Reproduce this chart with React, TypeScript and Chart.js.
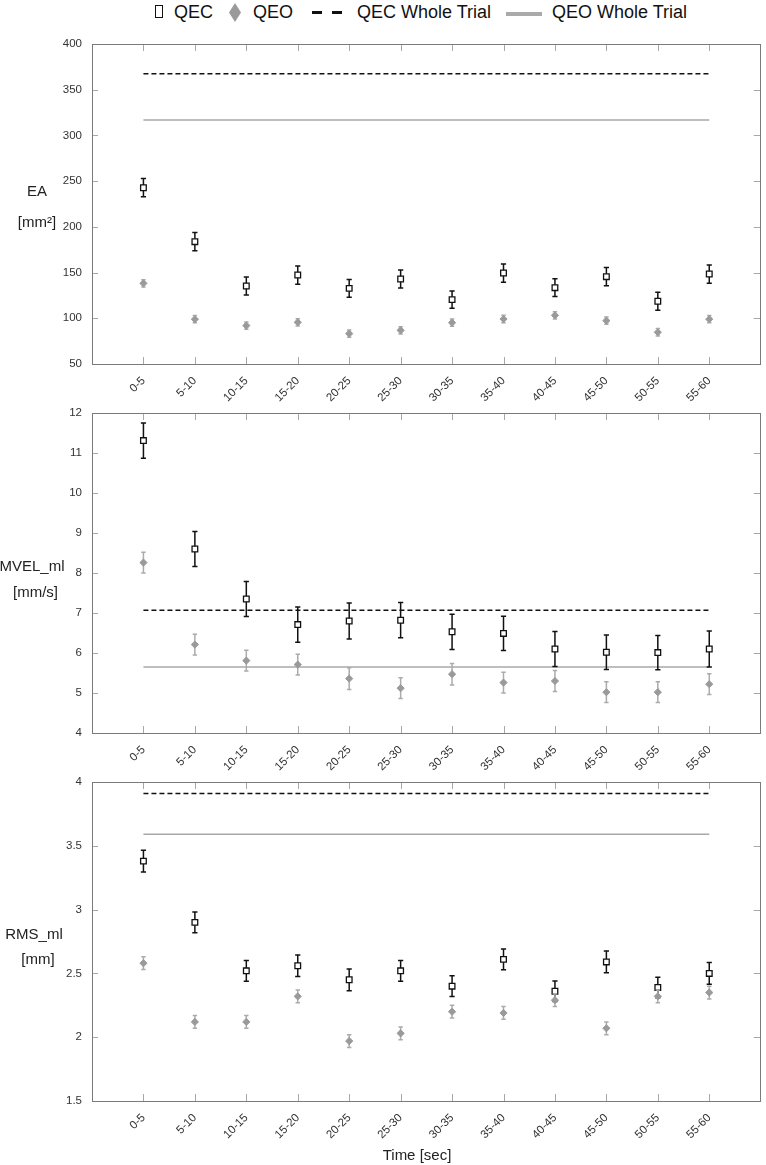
import React, { useEffect, useRef } from "react";
import { Chart, registerables } from "chart.js";

Chart.register(...registerables);

const FONT = "'Liberation Sans', Arial, Helvetica, sans-serif";

// ---------- data ----------
const categories = ["0-5", "5-10", "10-15", "15-20", "20-25", "25-30", "30-35", "35-40", "40-45", "45-50", "50-55", "55-60"];

const eaTicks = [50, 100, 150, 200, 250, 300, 350, 400];
const eaQEC = [242.8, 183.8, 135.3, 147.3, 132.7, 143, 120.4, 149.5, 133.5, 145.5, 118.6, 148.4];
const eaQECErr = [10, 10, 9.8, 10, 9.8, 9.8, 9.5, 10, 9.8, 10, 9.8, 10];
const eaQEO = [138.2, 99, 92, 95.6, 83.2, 86.8, 95.2, 99.2, 103.2, 97.4, 84.7, 99];
const eaQEOErr = [4, 4, 4, 4, 4, 4, 4, 4, 4, 4, 4, 4];
const eaQECWhole = 367.5;
const eaQEOWhole = 317;

const mvelTicks = [4, 5, 6, 7, 8, 9, 10, 11, 12];
const mvelQEC = [11.31, 8.6, 7.35, 6.71, 6.8, 6.82, 6.53, 6.49, 6.1, 6.02, 6.01, 6.1];
const mvelQECErr = [0.44, 0.44, 0.44, 0.44, 0.45, 0.44, 0.44, 0.43, 0.44, 0.43, 0.43, 0.45];
const mvelQEO = [8.26, 6.21, 5.81, 5.71, 5.36, 5.12, 5.47, 5.26, 5.3, 5.02, 5.02, 5.22];
const mvelQEOErr = [0.26, 0.26, 0.26, 0.26, 0.27, 0.26, 0.27, 0.26, 0.26, 0.26, 0.26, 0.26];
const mvelQECWhole = 7.07;
const mvelQEOWhole = 5.65;

const rmsTicks = [1.5, 2, 2.5, 3, 3.5, 4];
const rmsQEC = [3.38, 2.9, 2.52, 2.56, 2.45, 2.52, 2.4, 2.61, 2.36, 2.59, 2.39, 2.5];
const rmsQECErr = [0.085, 0.082, 0.082, 0.085, 0.085, 0.082, 0.082, 0.082, 0.08, 0.085, 0.08, 0.085];
const rmsQEO = [2.58, 2.12, 2.12, 2.32, 1.97, 2.03, 2.2, 2.19, 2.29, 2.07, 2.32, 2.35];
const rmsQEOErr = [0.05, 0.05, 0.05, 0.05, 0.05, 0.05, 0.05, 0.05, 0.05, 0.05, 0.05, 0.05];
const rmsQECWhole = 3.91;
const rmsQEOWhole = 3.59;

// ---------- panel layout ----------
type Label = { text: string; x: number; y: number; size: number };
type PanelCfg = {
  top: number;
  height: number;
  padTop: number;
  xAxisHeight: number;
  ticks: number[];
  qec: number[];
  qecErr: number[];
  qeo: number[];
  qeoErr: number[];
  qecWhole: number;
  qeoWhole: number;
  labels: Label[];
};

const panels: PanelCfg[] = [
  {
    top: 30, height: 375, padTop: 14, xAxisHeight: 41,
    ticks: eaTicks, qec: eaQEC, qecErr: eaQECErr, qeo: eaQEO, qeoErr: eaQEOErr,
    qecWhole: eaQECWhole, qeoWhole: eaQEOWhole,
    labels: [
      { text: "EA", x: 37, y: 162, size: 15 },
      { text: "[mm²]", x: 37, y: 193, size: 15 },
    ],
  },
  {
    top: 405, height: 370, padTop: 8, xAxisHeight: 42,
    ticks: mvelTicks, qec: mvelQEC, qecErr: mvelQECErr, qeo: mvelQEO, qeoErr: mvelQEOErr,
    qecWhole: mvelQECWhole, qeoWhole: mvelQEOWhole,
    labels: [
      { text: "MVEL_ml", x: 32, y: 162, size: 15 },
      { text: "[mm/s]", x: 35.5, y: 188, size: 15 },
    ],
  },
  {
    top: 775, height: 390, padTop: 7, xAxisHeight: 64,
    ticks: rmsTicks, qec: rmsQEC, qecErr: rmsQECErr, qeo: rmsQEO, qeoErr: rmsQEOErr,
    qecWhole: rmsQECWhole, qeoWhole: rmsQEOWhole,
    labels: [
      { text: "RMS_ml", x: 34, y: 160, size: 15 },
      { text: "[mm]", x: 38, y: 185, size: 15 },
      { text: "Time [sec]", x: 417, y: 381, size: 15 },
    ],
  },
];

const errorBarPlugin = {
  id: "errorBars",
  beforeDatasetDraw(chart: any, args: any) {
    const ds = chart.data.datasets[args.index];
    if (!ds.errs) return;
    const ctx = chart.ctx;
    const ys = chart.scales.y;
    ctx.save();
    ctx.strokeStyle = ds.errColor;
    ctx.lineWidth = 1.5;
    const cap = ds.capHalf;
    args.meta.data.forEach((el: any, i: number) => {
      const v = ds.data[i].y;
      const e = ds.errs[i];
      const yt = ys.getPixelForValue(v + e);
      const yb = ys.getPixelForValue(v - e);
      const x = el.x;
      ctx.beginPath();
      ctx.moveTo(x, yt);
      ctx.lineTo(x, yb);
      ctx.moveTo(x - cap, yt);
      ctx.lineTo(x + cap, yt);
      ctx.moveTo(x - cap, yb);
      ctx.lineTo(x + cap, yb);
      ctx.stroke();
    });
    ctx.restore();
  },
};

function makeFramePlugin(labels: Label[]) {
  return {
    id: "frame",
    beforeDatasetsDraw(chart: any) {
      const { ctx, chartArea: a, scales } = chart;
      ctx.save();
      ctx.strokeStyle = "#a8a8a8";
      ctx.lineWidth = 1;
      ctx.beginPath();
      scales.x.ticks.forEach((t: any) => {
        const px = Math.round(scales.x.getPixelForValue(t.value)) + 0.5;
        ctx.moveTo(px, a.top);
        ctx.lineTo(px, a.top + 7);
        ctx.moveTo(px, a.bottom);
        ctx.lineTo(px, a.bottom - 7);
      });
      scales.y.ticks.forEach((t: any) => {
        const py = Math.round(scales.y.getPixelForValue(t.value)) + 0.5;
        ctx.moveTo(a.left, py);
        ctx.lineTo(a.left + 6, py);
        ctx.moveTo(a.right, py);
        ctx.lineTo(a.right - 7, py);
      });
      ctx.stroke();
      ctx.strokeStyle = "#7a7a7a";
      ctx.strokeRect(Math.round(a.left) + 0.5, Math.round(a.top) + 0.5, Math.round(a.right - a.left) - 1, Math.round(a.bottom - a.top));
      ctx.restore();
    },
    afterDraw(chart: any) {
      const ctx = chart.ctx;
      ctx.save();
      ctx.fillStyle = "#222";
      ctx.textAlign = "center";
      ctx.textBaseline = "middle";
      labels.forEach((l) => {
        ctx.font = `${l.size}px ${FONT}`;
        ctx.fillText(l.text, l.x, l.y);
      });
      ctx.restore();
    },
  };
}

function Panel({ cfg }: { cfg: PanelCfg }) {
  const ref = useRef<HTMLCanvasElement>(null);
  useEffect(() => {
    const pts = (arr: number[]) => arr.map((v, i) => ({ x: i + 1, y: v }));
    const flat = (v: number) => categories.map((_, i) => ({ x: i + 1, y: v }));
    const chart = new Chart(ref.current!, {
      type: "scatter",
      data: {
        datasets: [
          {
            label: "QEO",
            data: pts(cfg.qeo),
            errs: cfg.qeoErr,
            errColor: "#ababab",
            capHalf: 2.2,
            pointStyle: "rectRot",
            pointRadius: 3.6,
            pointBackgroundColor: "#9a9a9a",
            pointBorderColor: "#9a9a9a",
            pointBorderWidth: 1,
            order: 1,
          } as any,
          {
            label: "QEC",
            data: pts(cfg.qec),
            errs: cfg.qecErr,
            errColor: "#111",
            capHalf: 2.6,
            pointStyle: "rect",
            pointRadius: 4,
            pointBackgroundColor: "#fff",
            pointBorderColor: "#111",
            pointBorderWidth: 1.3,
            order: 2,
          } as any,
          {
            label: "QEC Whole Trial",
            data: flat(cfg.qecWhole),
            showLine: true,
            borderColor: "#111",
            borderWidth: 1.5,
            borderDash: [5, 3],
            pointRadius: 0,
            order: 3,
          } as any,
          {
            label: "QEO Whole Trial",
            data: flat(cfg.qeoWhole),
            showLine: true,
            borderColor: "#a8a8a8",
            borderWidth: 1.5,
            pointRadius: 0,
            order: 3,
          } as any,
        ],
      },
      options: {
        responsive: false,
        animation: false,
        devicePixelRatio: 1,
        events: [],
        layout: { padding: { left: 0, right: 2, top: cfg.padTop, bottom: 0 } },
        plugins: { legend: { display: false }, tooltip: { enabled: false } },
        scales: {
          x: {
            type: "linear",
            min: 0,
            max: categories.length + 1,
            afterBuildTicks: (s: any) => {
              s.ticks = categories.map((_, i) => ({ value: i + 1 }));
            },
            afterFit: (s: any) => {
              s.height = cfg.xAxisHeight;
              s.paddingLeft = 0;
              s.paddingRight = 0;
            },
            ticks: {
              callback: (v: any) => categories[Number(v) - 1] ?? "",
              autoSkip: false,
              minRotation: 45,
              maxRotation: 45,
              padding: 10,
              color: "#333",
              font: { family: FONT, size: 11.5 },
            },
            grid: { display: false, drawTicks: false },
            border: { display: false },
          },
          y: {
            type: "linear",
            min: cfg.ticks[0],
            max: cfg.ticks[cfg.ticks.length - 1],
            afterBuildTicks: (s: any) => {
              s.ticks = cfg.ticks.map((v) => ({ value: v }));
            },
            afterFit: (s: any) => {
              s.width = 92;
              s.paddingTop = 0;
              s.paddingBottom = 0;
            },
            ticks: {
              callback: (v: any) => String(v),
              padding: 10,
              color: "#333",
              font: { family: FONT, size: 11.5 },
            },
            grid: { display: false, drawTicks: false },
            border: { display: false },
          },
        },
      } as any,
      plugins: [errorBarPlugin, makeFramePlugin(cfg.labels)],
    });
    return () => chart.destroy();
  }, [cfg]);
  return (
    <canvas
      ref={ref}
      width={766}
      height={cfg.height}
      style={{ position: "absolute", left: 0, top: cfg.top, width: 766, height: cfg.height }}
    />
  );
}

function Legend() {
  const text: React.CSSProperties = {
    position: "absolute",
    top: 3,
    lineHeight: "18px",
    fontSize: 18,
    fontFamily: FONT,
    color: "#111",
    whiteSpace: "nowrap",
  };
  return (
    <div style={{ position: "absolute", left: 0, top: 0, width: 766, height: 30 }}>
      <div style={{ position: "absolute", left: 155, top: 5, width: 8, height: 13, border: "1px solid #111", boxSizing: "border-box", background: "#fff" }} />
      <span style={{ ...text, left: 174 }}>QEC</span>
      <svg style={{ position: "absolute", left: 229, top: 3 }} width={12} height={19}>
        <polygon points="6,0 12,9.5 6,19 0,9.5" fill="#9a9a9a" />
      </svg>
      <span style={{ ...text, left: 253 }}>QEO</span>
      <div style={{ position: "absolute", left: 312, top: 11, width: 10, height: 3, background: "#111" }} />
      <div style={{ position: "absolute", left: 332, top: 11, width: 10, height: 3, background: "#111" }} />
      <span style={{ ...text, left: 357 }}>QEC Whole Trial</span>
      <div style={{ position: "absolute", left: 506, top: 12, width: 36, height: 4, background: "#aaa" }} />
      <span style={{ ...text, left: 552 }}>QEO Whole Trial</span>
    </div>
  );
}

export default function App() {
  return (
    <div style={{ position: "absolute", left: 0, top: 0, width: 766, height: 1165, background: "#fff", overflow: "hidden" }}>
      <Legend />
      {panels.map((p, i) => (
        <Panel key={i} cfg={p} />
      ))}
    </div>
  );
}
